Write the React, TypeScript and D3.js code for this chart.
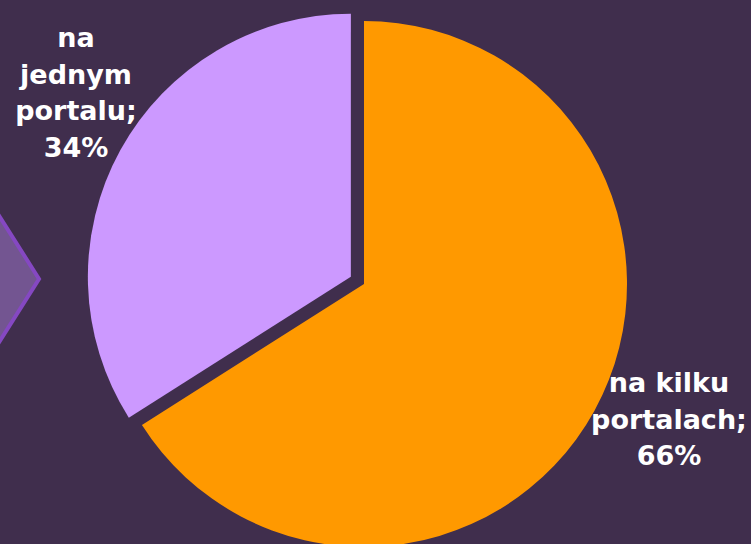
import React from "react";
import * as d3 from "d3";

const categories = ["na kilku portalach", "na jednym portalu"];
const values = [66, 34];
const labelLines = [
  ["na kilku", "portalach;", "66%"],
  ["na", "jednym", "portalu;", "34%"],
];
const colors = ["#ff9900", "#cc99ff"];
const explode = [0, 15];

const W = 751;
const H = 544;

export default function App() {
  const cx = 364;
  const cy = 284;
  const r = 263;
  const pie = d3.pie<number>().sort(null).value((d) => d);
  const arcs = pie(values);
  const arc = d3.arc<d3.PieArcDatum<number>>().innerRadius(0).outerRadius(r);
  const labelPos = [
    { x: 669, y: 392 },
    { x: 76, y: 47 },
  ];
  return (
    <svg
      width={W}
      height={H}
      style={{ position: "absolute", left: 0, top: 0, display: "block" }}
    >
      <rect x={0} y={0} width={W} height={H} fill="#402e4d" />
      <path
        d="M -60 122 L 39 279 L -60 436 Z"
        fill="#735591"
        stroke="#8548c2"
        strokeWidth={4}
      />
      <g transform={`translate(${cx},${cy})`}>
        {arcs.map((a, i) => {
          const mid = (a.startAngle + a.endAngle) / 2;
          const dx = Math.sin(mid) * explode[i];
          const dy = -Math.cos(mid) * explode[i];
          return (
            <path
              key={categories[i]}
              d={arc(a) || ""}
              fill={colors[i]}
              transform={`translate(${dx},${dy})`}
            />
          );
        })}
      </g>
      {labelLines.map((lines, i) => (
        <text
          key={i}
          fill="#ffffff"
          fontFamily="DejaVu Sans, Verdana, sans-serif"
          fontWeight="bold"
          fontSize={27}
          textAnchor="middle"
        >
          {lines.map((l, j) => (
            <tspan key={j} x={labelPos[i].x} y={labelPos[i].y + j * 36.5}>
              {l}
            </tspan>
          ))}
        </text>
      ))}
    </svg>
  );
}
